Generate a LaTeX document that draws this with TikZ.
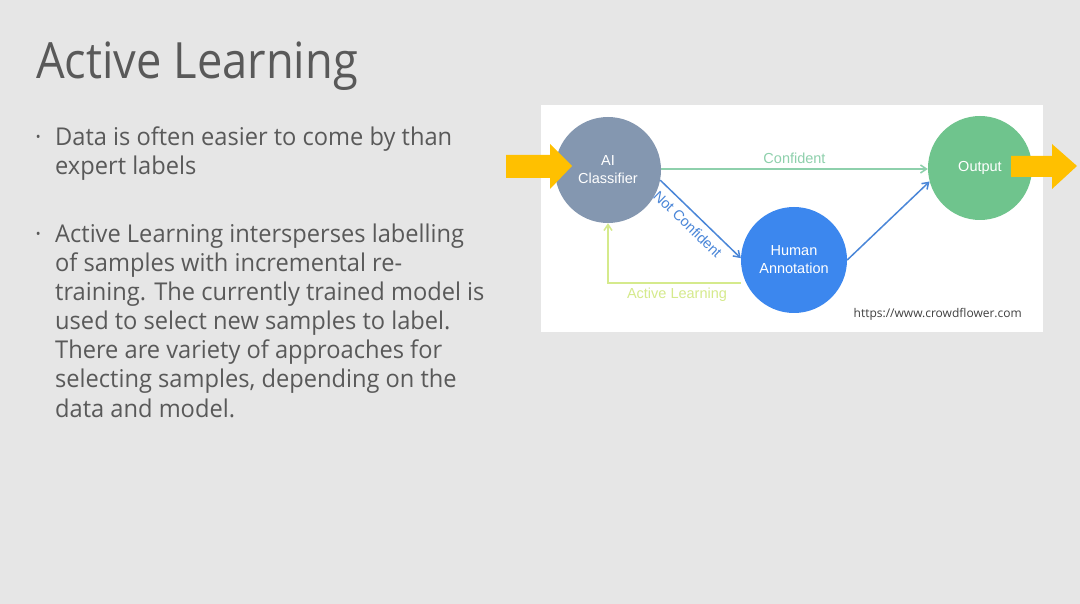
\documentclass[tikz,border=0pt]{standalone}
\usepackage{fontspec}
\setmainfont{Open Sans}
\newfontfamily\titlefont[FakeStretch=0.905]{Open Sans}
\newfontfamily\bodyfont[FakeStretch=0.965]{Open Sans}
\newfontfamily\diagfont{Liberation Sans}
\usetikzlibrary{arrows.meta}
\definecolor{slidebg}{HTML}{E6E6E6}
\definecolor{slidetext}{HTML}{595959}
\definecolor{aicol}{HTML}{8497B0}
\definecolor{outcol}{HTML}{6FC48D}
\definecolor{humcol}{HTML}{3C87EE}
\definecolor{confcol}{HTML}{8ED0AC}
\definecolor{bluearr}{HTML}{4A86D8}
\definecolor{alcol}{HTML}{D5EA8C}
\definecolor{yellowarr}{HTML}{FFC000}
\definecolor{urlcol}{HTML}{404040}
\tikzset{
  bodyline/.style={anchor=base west, inner sep=0pt, text=slidetext, font=\bodyfont\fontsize{24.5}{29}\selectfont},
  circ/.style={circle, minimum size=106pt, inner sep=0pt, text=white, align=center, font=\diagfont\fontsize{14.5}{18}\selectfont},
  conn/.style={line width=1.5pt, -{Straight Barb[length=6pt,width=8pt]}},
  lab/.style={font=\diagfont\fontsize{14.5}{17}\selectfont},
  fatarrow/.style={fill=yellowarr, draw=none}
}
\begin{document}
\begin{tikzpicture}[x=1pt,y=-1pt]
\fill[slidebg] (0,0) rectangle (1080,604);
\useasboundingbox (0,0) rectangle (1080,604);
% title
\node[anchor=base west, inner sep=0pt, text=slidetext, font=\titlefont\fontsize{50}{60}\selectfont] (title) at (36,79) {Active Learning};
% bullets
\node[bodyline] (b1) at (35,146) {\textperiodcentered};
\node[bodyline] (l1) at (55,146) {Data is often easier to come by than};
\node[bodyline] (l2) at (55,175) {expert labels};
\node[bodyline] (b2) at (35,243) {\textperiodcentered};
\node[bodyline] (l3) at (55,243) {Active Learning intersperses labelling};
\node[bodyline] (l4) at (55,272) {of samples with incremental re-};
\node[bodyline] (l5) at (55,301) {training. The currently trained model is};
\node[bodyline] (l6) at (55,330) {used to select new samples to label.};
\node[bodyline] (l7) at (55,359) {There are variety of approaches for};
\node[bodyline] (l8) at (55,388) {selecting samples, depending on the};
\node[bodyline] (l9) at (55,417) {data and model.};
% diagram panel
\fill[white] (541,105) rectangle (1043,332);
\node[circ, fill=aicol] (ai) at (608,170) {AI\\Classifier};
\node[circ, fill=outcol, minimum size=104pt] (out) at (980,168) {Output};
\node[circ, fill=humcol] (hum) at (794,260) {Human\\Annotation};
% connectors
\draw[conn, confcol] (ai.east |- 0,169) -- node[lab, above, text=confcol, yshift=1pt] (conf) {Confident} (out.west |- 0,169);
\draw[conn, bluearr] (ai.-11) -- node[lab, sloped, below=3pt, text=bluearr, pos=0.45] (nc) {Not Confident} (hum.178);
\draw[conn, bluearr] (hum.east) -- (out.-165);
\coordinate (alc) at (608,283);
\draw[conn, alcol] (hum.west |- alc) -- (alc) -- (ai.south);
\node[lab, text=alcol] (al) at (677,295) {Active Learning};
\node[anchor=base east, inner sep=0pt, text=urlcol, font=\fontsize{12}{14}\selectfont] (url) at (1022,318) {https://www.crowdflower.com};
% yellow arrows
\fill[fatarrow] (506,155) -- (550,155) -- (550,144) -- (572,166) -- (550,189) -- (550,178) -- (506,178) -- cycle;
\fill[fatarrow] (1011,156) -- (1052,156) -- (1052,144) -- (1077,166) -- (1052,189) -- (1052,177) -- (1011,177) -- cycle;
\end{tikzpicture}
\end{document}
